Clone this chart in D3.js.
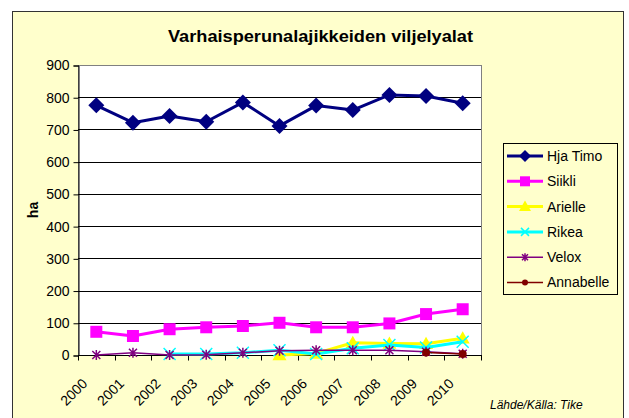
<!DOCTYPE html>
<html>
<head>
<meta charset="utf-8">
<script src="https://cdn.jsdelivr.net/npm/d3@7"></script>
<style>
  body { margin: 0; background: #fff; }
  svg { display: block; font-family: Arial, "Liberation Sans", sans-serif; }
</style>
</head>
<body>
<div id="chart"></div>
<script>
// Data
const years = ["2000", "2001", "2002", "2003", "2004", "2005", "2006", "2007", "2008", "2009", "2010"];
const hjaTimo = [775, 721, 742, 724, 784, 711, 774, 760, 807, 804, 781];
const siikli = [72, 59, 80, 86, 90, 100, 86, 86, 98, 127, 142];
const arielle = [null, null, null, null, null, 0, 5, 38, 36, 35, 52];
const rikea = [null, null, 3, 3, 7, 15, 3, 21, 31, 23, 41];
const velox = [0, 7, 0, 1, 7, 13, 15, 15, 15, 10, 4];
const annabelle = [null, null, null, null, null, null, null, null, null, 8, 3];
const yTicks = [0, 100, 200, 300, 400, 500, 600, 700, 800, 900];

const seriesList = [
  { name: "Hja Timo", values: hjaTimo, color: "#000080", width: 3, marker: "diamond", size: 8 },
  { name: "Siikli", values: siikli, color: "#FF00FF", width: 3, marker: "square", size: 6 },
  { name: "Arielle", values: arielle, color: "#FFFF00", width: 3, marker: "triangle", size: 7 },
  { name: "Rikea", values: rikea, color: "#00FFFF", width: 3, marker: "x", size: 6 },
  { name: "Velox", values: velox, color: "#800080", width: 1.5, marker: "star", size: 4 },
  { name: "Annabelle", values: annabelle, color: "#800000", width: 1.5, marker: "circle", size: 4 }
];

function drawChart() {
  const width = 629, height = 418;
  const plot = { left: 78, right: 481, top: 65, bottom: 355 };

  d3.select("#chart svg").remove();
  const svg = d3.select("#chart").append("svg")
    .attr("width", width)
    .attr("height", height);

  // Chart area background and border
  svg.append("rect")
    .attr("x", 12.5).attr("y", 11.5)
    .attr("width", 611).attr("height", 420)
    .attr("fill", "#FFFFCC")
    .attr("stroke", "#333")
    .attr("stroke-width", 1);

  // Title
  svg.append("text")
    .attr("x", 168).attr("y", 42)
    .attr("font-size", 16).attr("font-weight", "bold")
    .attr("textLength", 305)
    .attr("lengthAdjust", "spacingAndGlyphs")
    .text("Varhaisperunalajikkeiden viljelyalat");

  const x = d3.scaleBand().domain(years).range([plot.left, plot.right]);
  const y = d3.scaleLinear().domain([0, 900]).range([plot.bottom, plot.top]);

  // Plot area
  svg.append("rect")
    .attr("x", plot.left + 0.5).attr("y", plot.top + 0.5)
    .attr("width", plot.right - plot.left).attr("height", plot.bottom - plot.top)
    .attr("fill", "#fff")
    .attr("stroke", "#808080");

  // Gridlines
  svg.append("g")
    .selectAll("line")
    .data(yTicks.filter(d => d > 0 && d < 900))
    .enter()
    .append("line")
    .attr("x1", plot.left).attr("x2", plot.right)
    .attr("y1", d => Math.round(y(d)) + 0.5).attr("y2", d => Math.round(y(d)) + 0.5)
    .attr("stroke", "#000");

  // Y axis
  const yAxis = svg.append("g")
    .attr("transform", `translate(${plot.left + 0.5},0.5)`)
    .call(d3.axisLeft(y).tickValues(yTicks).tickSize(5).tickPadding(4));
  yAxis.select(".domain").attr("stroke", "#000");
  yAxis.selectAll("text").attr("font-size", 14).attr("fill", "#000")
    .attr("font-family", "Arial, 'Liberation Sans', sans-serif");

  // X axis with ticks between categories
  const xAxis = svg.append("g")
    .attr("transform", `translate(0,${plot.bottom + 0.5})`);
  xAxis.append("line")
    .attr("x1", plot.left).attr("x2", plot.right + 1)
    .attr("stroke", "#000");
  const bounds = years.map(d => x(d)).concat([plot.right]);
  xAxis.selectAll("line.tick")
    .data(bounds)
    .enter()
    .append("line")
    .attr("class", "tick")
    .attr("x1", d => Math.round(d) + 0.5).attr("x2", d => Math.round(d) + 0.5)
    .attr("y1", 0).attr("y2", 5)
    .attr("stroke", "#000");
  xAxis.selectAll("text")
    .data(years)
    .enter()
    .append("text")
    .attr("transform", d => `translate(${x(d) + x.bandwidth() / 2 - 8},29) rotate(-45)`)
    .attr("text-anchor", "end")
    .attr("font-size", 14)
    .text(d => d);

  // Y axis title
  svg.append("text")
    .attr("transform", "translate(38,210) rotate(-90)")
    .attr("text-anchor", "middle")
    .attr("font-size", 14).attr("font-weight", "bold")
    .text("ha");

  // Marker drawing
  function drawMarker(g, s, cx, cy) {
    const r = s.size;
    if (s.marker === "x") {
      g.append("path")
        .attr("d", `M${cx - r},${cy - r}L${cx + r},${cy + r}M${cx - r},${cy + r}L${cx + r},${cy - r}`)
        .attr("stroke", s.color).attr("stroke-width", 1.5).attr("fill", "none");
    } else if (s.marker === "star") {
      g.append("path")
        .attr("d", `M${cx - r},${cy - r}L${cx + r},${cy + r}M${cx - r},${cy + r}L${cx + r},${cy - r}M${cx},${cy - r - 1}L${cx},${cy + r + 1}`)
        .attr("stroke", s.color).attr("stroke-width", 1.5).attr("fill", "none");
    } else if (s.marker === "circle") {
      g.append("circle")
        .attr("cx", cx).attr("cy", cy).attr("r", r)
        .attr("fill", s.color);
    } else {
      let path;
      if (s.marker === "diamond") {
        path = `M${cx},${cy - r}L${cx + r},${cy}L${cx},${cy + r}L${cx - r},${cy}Z`;
      } else if (s.marker === "square") {
        path = `M${cx - r},${cy - r}h${2 * r}v${2 * r}h${-2 * r}Z`;
      } else {
        path = `M${cx},${cy - r}L${cx + r},${cy + r * 0.75}L${cx - r},${cy + r * 0.75}Z`;
      }
      g.append("path").attr("d", path).attr("fill", s.color);
    }
  }

  const line = d3.line()
    .defined(d => d.v != null)
    .x(d => x(d.year) + x.bandwidth() / 2)
    .y(d => y(d.v));

  // Series: later ones drawn on top, as in the original
  seriesList.forEach(s => {
    const pts = years.map((yr, i) => ({ year: yr, v: s.values[i] }));
    const g = svg.append("g");
    g.append("path")
      .datum(pts)
      .attr("d", line)
      .attr("fill", "none")
      .attr("stroke", s.color)
      .attr("stroke-width", s.width)
      .attr("stroke-linejoin", "round");
    pts.filter(p => p.v != null).forEach(p => {
      drawMarker(g, s, x(p.year) + x.bandwidth() / 2, y(p.v));
    });
  });

  // Legend
  const legendX = 503, legendY = 143;
  svg.append("rect")
    .attr("x", legendX + 0.5).attr("y", legendY + 0.5)
    .attr("width", 114).attr("height", 151)
    .attr("fill", "#FFFFCC")
    .attr("stroke", "#000");

  const legendItems = svg.append("g")
    .selectAll("g")
    .data(seriesList)
    .enter()
    .append("g")
    .attr("transform", (d, i) => `translate(${legendX}, ${legendY + 13 + i * 25.3})`);

  legendItems.each(function (s) {
    const g = d3.select(this);
    g.append("line")
      .attr("x1", 4).attr("x2", 40)
      .attr("stroke", s.color)
      .attr("stroke-width", s.width);
    const m = Object.assign({}, s);
    if (s.marker === "diamond") m.size = 6;
    if (s.marker === "square") m.size = 5;
    if (s.marker === "triangle") m.size = 6;
    if (s.marker === "x") m.size = 4;
    if (s.marker === "star") m.size = 3;
    if (s.marker === "circle") m.size = 3;
    drawMarker(g, m, 22, 0);
  });

  legendItems.append("text")
    .attr("x", 44).attr("y", 0)
    .attr("dy", "0.35em")
    .attr("font-size", 14)
    .text(d => d.name);

  // Source note
  svg.append("text")
    .attr("x", 490).attr("y", 409)
    .attr("font-size", 12).attr("font-style", "italic")
    .text("Lähde/Källa: Tike");
}

drawChart();
</script>
</body>
</html>
